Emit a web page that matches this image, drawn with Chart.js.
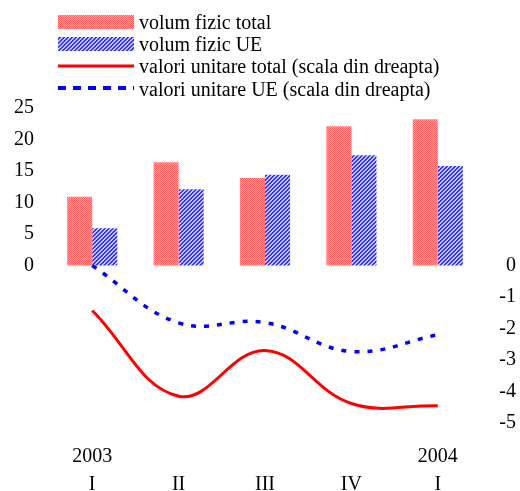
<!DOCTYPE html>
<html>
<head>
<meta charset="utf-8">
<script src="https://cdn.jsdelivr.net/npm/chart.js@4"></script>
<style>
  body { margin: 0; background: #fff; }
  canvas { display: block; }
</style>
</head>
<body>
<canvas id="chart" width="520" height="491"></canvas>
<script>
// data
const quarters = [['2003', 'I'], ['', 'II'], ['', 'III'], ['', 'IV'], ['2004', 'I']];
const volumTotal = [10.9, 16.4, 13.9, 22.1, 23.2];
const volumUE = [5.9, 12.1, 14.4, 17.5, 15.8];
const unitarTotal = [-1.43, -4.15, -2.7, -4.38, -4.45];
const unitarUE = [0, -1.82, -1.81, -2.73, -2.2];

const FONT = "'Liberation Serif', 'Times New Roman', serif";

// small repeating fills like the original bars
function makePattern(kind) {
    const c = document.createElement('canvas');
    c.width = 4;
    c.height = 4;
    const g = c.getContext('2d');
    for (let x = 0; x < 4; x++) {
        for (let y = 0; y < 4; y++) {
            if (kind === 'red') {
                g.fillStyle = (x + y) % 2 === 0 ? '#ff6262' : '#ffa4a4';
            } else {
                g.fillStyle = (x + y) % 4 < 2 ? '#3434ff' : '#c4c4ff';
            }
            g.fillRect(x, y, 1, 1);
        }
    }
    return c.getContext('2d').createPattern(c, 'repeat');
}

const redFill = makePattern('red');
const blueFill = makePattern('blue');

// legend drawn by hand, top left
const legendPlugin = {
    id: 'sideLegend',
    afterDraw(chart) {
        const ctx = chart.ctx;
        const x0 = 58, x1 = 134, tx = 139;
        ctx.save();
        ctx.fillStyle = redFill;
        ctx.fillRect(x0, 15, x1 - x0, 14);
        ctx.fillStyle = blueFill;
        ctx.fillRect(x0, 37, x1 - x0, 14);

        ctx.strokeStyle = '#ff0000';
        ctx.lineWidth = 3;
        ctx.beginPath();
        ctx.moveTo(x0, 66);
        ctx.lineTo(x1, 66);
        ctx.stroke();

        ctx.strokeStyle = '#0000ff';
        ctx.lineWidth = 4;
        ctx.setLineDash([8, 7]);
        ctx.beginPath();
        ctx.moveTo(x0, 88);
        ctx.lineTo(x1, 88);
        ctx.stroke();
        ctx.setLineDash([]);

        ctx.fillStyle = '#000';
        ctx.font = '20px ' + FONT;
        ctx.textBaseline = 'middle';
        ctx.textAlign = 'left';
        ctx.fillText('volum fizic total', tx, 24);
        ctx.fillText('volum fizic UE', tx, 46);
        ctx.fillText('valori unitare total (scala din dreapta)', tx, 68);
        ctx.fillText('valori unitare UE (scala din dreapta)', tx, 91);
        ctx.restore();
    }
};

new Chart(document.getElementById('chart'), {
    data: {
        labels: quarters,
        datasets: [
            {
                type: 'line',
                label: 'valori unitare total (scala din dreapta)',
                data: unitarTotal,
                yAxisID: 'y1',
                borderColor: '#ff0000',
                borderWidth: 3,
                pointRadius: 0,
                tension: 0.4,
                fill: false
            },
            {
                type: 'line',
                label: 'valori unitare UE (scala din dreapta)',
                data: unitarUE,
                yAxisID: 'y1',
                borderColor: '#0000ff',
                borderWidth: 3.5,
                borderDash: [5, 8],
                pointRadius: 0,
                tension: 0.4,
                fill: false
            },
            {
                type: 'bar',
                label: 'volum fizic total',
                data: volumTotal,
                yAxisID: 'y',
                backgroundColor: redFill,
                barPercentage: 1,
                categoryPercentage: 0.58
            },
            {
                type: 'bar',
                label: 'volum fizic UE',
                data: volumUE,
                yAxisID: 'y',
                backgroundColor: blueFill,
                barPercentage: 1,
                categoryPercentage: 0.58
            }
        ]
    },
    options: {
        responsive: false,
        animation: false,
        layout: { padding: { top: 108, right: 4, bottom: 0, left: 0 } },
        plugins: {
            legend: { display: false },
            tooltip: { enabled: false }
        },
        scales: {
            x: {
                offset: true,
                grid: { display: false, drawTicks: false, offset: true },
                border: { display: false },
                ticks: {
                    color: '#000',
                    padding: 20,
                    maxRotation: 0,
                    autoSkip: false,
                    font: { family: FONT, size: 20, lineHeight: 1.4 }
                },
                afterFit(scale) { scale.height = 68; }
            },
            y: {
                position: 'left',
                min: -25,
                max: 25,
                grid: { display: false, drawTicks: false },
                border: { display: false },
                ticks: {
                    stepSize: 5,
                    color: '#000',
                    padding: 15,
                    font: { family: FONT, size: 20 },
                    callback: v => (v >= 0 ? String(v) : '')
                },
                afterFit(scale) { scale.width = 49; }
            },
            y1: {
                position: 'right',
                min: -5,
                max: 5,
                grid: { display: false, drawTicks: false },
                border: { display: false },
                ticks: {
                    stepSize: 1,
                    color: '#000',
                    crossAlign: 'far',
                    font: { family: FONT, size: 20 },
                    callback: v => (v <= 0 ? String(v) : '')
                },
                afterFit(scale) { scale.width = 35; }
            }
        }
    },
    plugins: [legendPlugin]
});
</script>
</body>
</html>
